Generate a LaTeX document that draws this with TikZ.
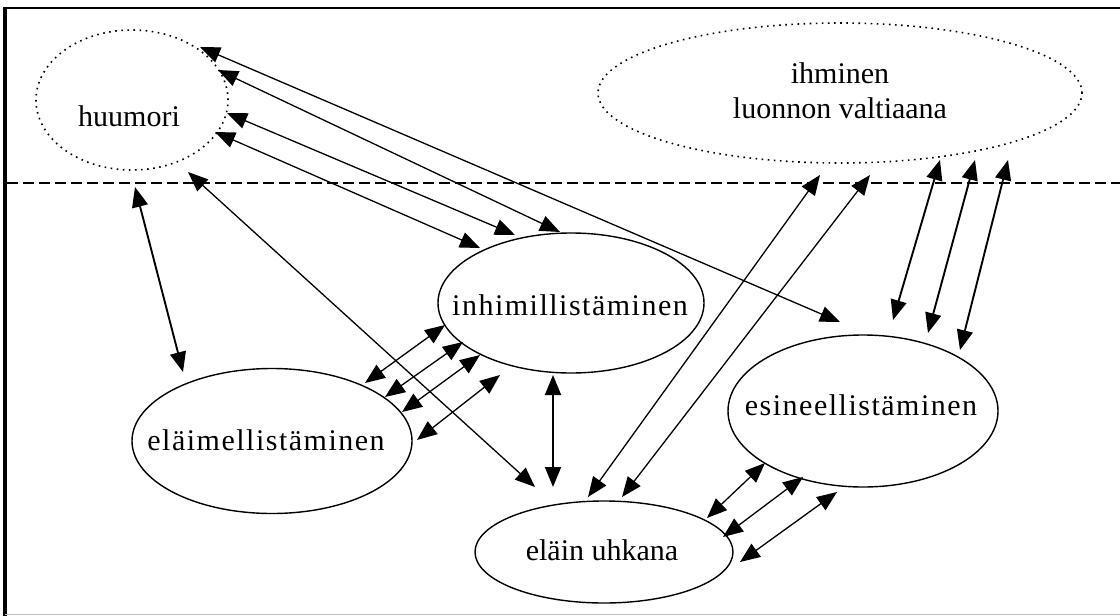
\documentclass[tikz,border=0pt]{standalone}
\usepackage{fontspec}
\setmainfont{Liberation Serif}
\usetikzlibrary{arrows.meta,shapes.geometric}
\begin{document}
\begin{tikzpicture}[x=1pt,y=-1pt,
  >={Triangle[length=20pt,width=16pt]},
  lbl/.style={font=\fontsize{30}{35}\selectfont, inner sep=0pt, align=center},
  widelbl/.style={font=\fontsize{30}{35}\selectfont\addfontfeatures{LetterSpace=5}, inner sep=0pt},
  ell/.style={draw, ellipse, line width=1.4pt, inner sep=0pt},
  dotell/.style={draw, ellipse, inner sep=0pt, line width=1.6pt, dash pattern=on 1.6pt off 4.5pt},
  link/.style={line width=1.3pt, <->},
  boldlink/.style={link, line width=1.9pt},
]
\useasboundingbox (0,0) rectangle (1120,616);
\fill[white] (0,0) rectangle (1120,616);
% frame
\draw[line width=2pt] (3,8) -- (1120,8);
\draw[line width=4pt] (5,7) -- (5,616);
\draw[line width=1pt, black!25] (5,614) -- (1120,614);
% dashed separator
\draw[line width=1.5pt, dash pattern=on 11pt off 5pt] (7,183) -- (1120,183);

% ellipses
\node[dotell, minimum width=192, minimum height=140] (hu) at (132,100) {};
\node[dotell, minimum width=484, minimum height=140] (ih) at (840,93) {};
\node[ell, minimum width=266, minimum height=140] (inh) at (571,303) {};
\node[ell, minimum width=280, minimum height=145] (elm) at (272,441) {};
\node[ell, minimum width=270, minimum height=152] (esi) at (863,411) {};
\node[ell, minimum width=258, minimum height=102] (uhk) at (604,552) {};

% texts
\node[lbl, anchor=base] (huT) at (129,126) {huumori};
\node[lbl] (ihT) at (840,90.3) {ihminen\\luonnon valtiaana};
\node[widelbl, anchor=base] (inhT) at (570,315) {inhimillistäminen};
\node[widelbl, anchor=base] (elmT) at (266,450) {eläimellistäminen};
\node[widelbl, anchor=base] (esiT) at (861,415) {esineellistäminen};
\node[lbl, anchor=base] (uhkT) at (602,560) {eläin uhkana};

% connector end points
\coordinate (huA) at (200,47);   \coordinate (esA) at (840,322);
\coordinate (huB) at (218,70);   \coordinate (inB) at (560,232);
\coordinate (huC) at (227,113);  \coordinate (inC) at (515,235);
\coordinate (huD) at (215,132);  \coordinate (inD) at (480,248);
\coordinate (huE) at (135,187);  \coordinate (elE) at (183,372);
\coordinate (huF) at (188,172);  \coordinate (ukF) at (535,487);
\coordinate (inG) at (553,375);  \coordinate (ukG) at (553,487);
\coordinate (ihH) at (820,175);  \coordinate (ukH) at (588,497);
\coordinate (ihI) at (870,175);  \coordinate (ukI) at (622,497);
\coordinate (ihJ) at (940,160);  \coordinate (esJ) at (893,320);
\coordinate (ihK) at (975,160);  \coordinate (esK) at (928,333);
\coordinate (ihL) at (1008,160); \coordinate (esL) at (960,350);
\coordinate (inM) at (445,325);  \coordinate (elM) at (365,383);
\coordinate (inN) at (463,342);  \coordinate (elN) at (385,397);
\coordinate (inO) at (480,355);  \coordinate (elO) at (402,412);
\coordinate (inP) at (500,375);  \coordinate (elP) at (417,440);
\coordinate (esQ) at (765,463);  \coordinate (ukQ) at (707,518);
\coordinate (esR) at (803,477);  \coordinate (ukR) at (723,537);
\coordinate (esS) at (837,492);  \coordinate (ukS) at (740,562);

% connectors
\draw[link] (huA) -- (esA);
\draw[link] (huB) -- (inB);
\draw[link] (huC) -- (inC);
\draw[link] (huD) -- (inD);
\draw[boldlink] (huE) -- (elE);
\draw[link] (huF) -- (ukF);
\draw[boldlink] (inG) -- (ukG);
\draw[link] (ihH) -- (ukH);
\draw[link] (ihI) -- (ukI);
\draw[boldlink] (ihJ) -- (esJ);
\draw[boldlink] (ihK) -- (esK);
\draw[boldlink] (ihL) -- (esL);
\draw[link] (inM) -- (elM);
\draw[link] (inN) -- (elN);
\draw[link] (inO) -- (elO);
\draw[link] (inP) -- (elP);
\draw[link] (esQ) -- (ukQ);
\draw[link] (esR) -- (ukR);
\draw[link] (esS) -- (ukS);
\end{tikzpicture}
\end{document}
